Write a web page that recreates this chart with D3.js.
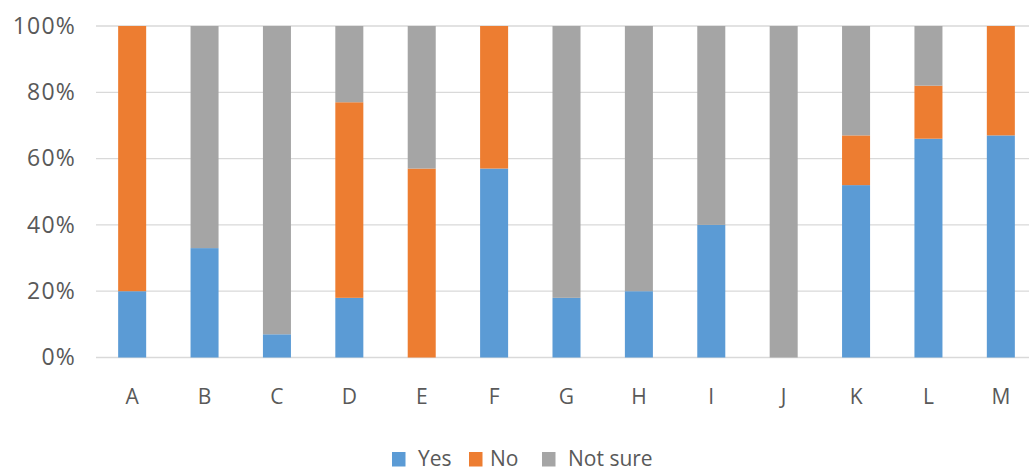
<!DOCTYPE html>
<html>
<head>
<meta charset="utf-8">
<script src="https://cdn.jsdelivr.net/npm/d3@7"></script>
<style>
  html, body { margin: 0; padding: 0; background: #fff; }
  svg { display: block; font-family: "Open Sans", sans-serif; }
</style>
</head>
<body>
<svg id="chart" width="1029" height="471"></svg>
<script>
// Survey answers per group, in percent
const categories = ["A", "B", "C", "D", "E", "F", "G", "H", "I", "J", "K", "L", "M"];
const yes     = [20, 33, 7, 18, 0, 57, 18, 20, 40, 0, 52, 66, 67];
const no      = [80, 0, 0, 59, 57, 43, 0, 0, 0, 0, 15, 16, 33];
const notSure = [0, 67, 93, 23, 43, 0, 82, 80, 60, 100, 33, 18, 0];
const seriesNames = ["Yes", "No", "Not sure"];
const yTicks = [0, 20, 40, 60, 80, 100];

const colors = ["#5B9BD5", "#ED7D31", "#A5A5A5"];
const textColor = "#595959";

const svg = d3.select("#chart");
const plot = { left: 96, right: 1037, top: 26, bottom: 357.5 };

const rows = categories.map((c, i) => ({ cat: c, Yes: yes[i], No: no[i], "Not sure": notSure[i] }));
const stacked = d3.stack().keys(seriesNames)(rows);

const x = d3.scaleBand().domain(categories).range([plot.left, plot.right]).paddingInner(0.613).paddingOuter(0.306);
const y = d3.scaleLinear().domain([0, 100]).range([plot.bottom, plot.top]);

// Horizontal gridlines
svg.append("g")
  .selectAll("line")
  .data(yTicks)
  .join("line")
  .attr("x1", plot.left)
  .attr("x2", 1029)
  .attr("y1", d => y(d))
  .attr("y2", d => y(d))
  .attr("stroke", "#D9D9D9")
  .attr("stroke-width", 1.3);

// Y axis labels
const yAxis = d3.axisLeft(y).tickValues(yTicks).tickFormat(d => d + "%").tickSize(0).tickPadding(0);
const yg = svg.append("g").attr("transform", `translate(76,0)`).call(yAxis);
yg.select(".domain").remove();
yg.selectAll("text")
  .attr("fill", textColor)
  .attr("font-size", 23)
  .attr("letter-spacing", 1.2)
  .attr("font-family", "'Open Sans', sans-serif");

// Stacked bars
svg.append("g")
  .selectAll("g")
  .data(stacked)
  .join("g")
  .attr("fill", (d, i) => colors[i])
  .selectAll("rect")
  .data(d => d)
  .join("rect")
  .attr("x", d => x(d.data.cat))
  .attr("width", x.bandwidth())
  .attr("y", d => y(d[1]))
  .attr("height", d => y(d[0]) - y(d[1]));

// X axis labels
const xAxis = d3.axisBottom(x).tickSize(0).tickPadding(0);
const xg = svg.append("g").attr("transform", `translate(0,${plot.bottom + 32})`).call(xAxis);
xg.select(".domain").remove();
xg.selectAll("text")
  .attr("fill", textColor)
  .attr("font-size", 21)
  .attr("font-family", "'Open Sans', sans-serif")
  .attr("dy", "0.71em");

// Legend
const legendItems = [
  { name: "Yes", sx: 392, tx: 418 },
  { name: "No", sx: 469, tx: 490 },
  { name: "Not sure", sx: 542, tx: 568 }
];
const lg = svg.append("g");
legendItems.forEach((d, i) => {
  lg.append("rect")
    .attr("x", d.sx).attr("y", 452)
    .attr("width", 13.5).attr("height", 14.5)
    .attr("fill", colors[i]);
  lg.append("text")
    .attr("x", d.tx).attr("y", 466)
    .attr("fill", textColor)
    .attr("font-size", 21)
    .text(d.name);
});
</script>
</body>
</html>
